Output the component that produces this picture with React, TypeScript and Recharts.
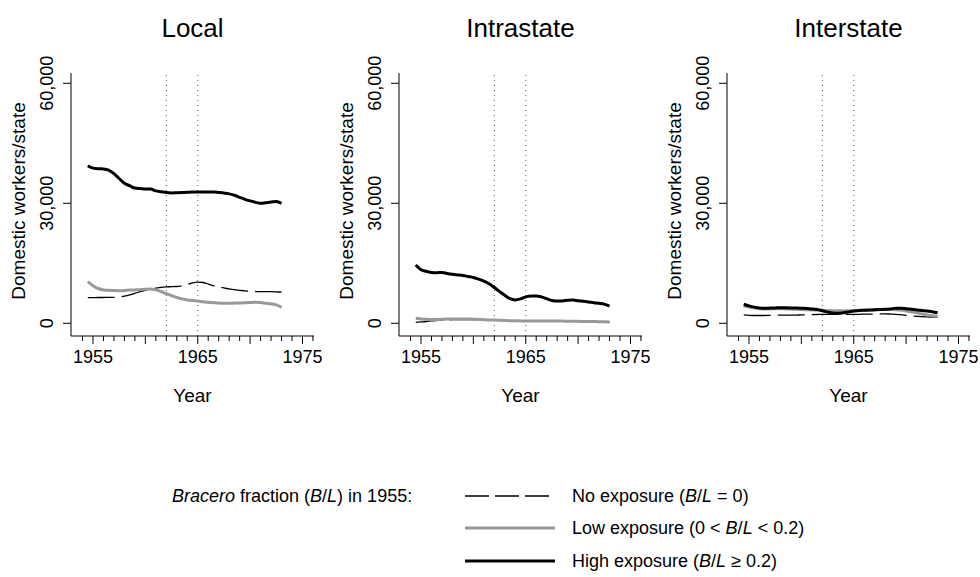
import React from 'react';
import { LineChart, Line, XAxis, YAxis, ReferenceLine } from 'recharts';

const FONT = "'Liberation Sans', Arial, Helvetica, sans-serif";

const years = [
  1954.5, 1955, 1955.5, 1956, 1956.5, 1957, 1957.5, 1958, 1958.5, 1959,
  1959.5, 1960, 1960.5, 1961, 1961.5, 1962, 1962.5, 1963, 1963.5, 1964,
  1964.5, 1965, 1965.5, 1966, 1966.5, 1967, 1967.5, 1968, 1968.5, 1969,
  1969.5, 1970, 1970.5, 1971, 1971.5, 1972, 1972.5, 1973,
];

const localNone = [
  6400, 6400, 6450, 6450, 6500, 6500, 6600, 6800, 7100, 7500,
  7900, 8250, 8550, 8800, 9000, 9100, 9150, 9200, 9400, 9700,
  10100, 10300, 10200, 9800, 9400, 9100, 8850, 8600, 8400, 8250,
  8100, 8000, 7950, 7900, 7900, 7900, 7850, 7800,
];
const localLow = [
  10400, 9400, 8700, 8350, 8250, 8200, 8150, 8200, 8300, 8350,
  8400, 8500, 8550, 8350, 7950, 7400, 6900, 6450, 6100, 5850,
  5700, 5550, 5400, 5250, 5150, 5050, 5000, 5000, 5050, 5100,
  5150, 5200, 5250, 5200, 5000, 4850, 4600, 4000,
];
const localHigh = [
  39400, 38800, 38650, 38600, 38300, 37400, 36200, 35000, 34400, 33800,
  33700, 33600, 33550, 33100, 32900, 32700, 32600, 32650, 32700, 32750,
  32800, 32820, 32850, 32850, 32830, 32700, 32550, 32350, 32000, 31500,
  31000, 30600, 30250, 30000, 30150, 30300, 30450, 30000,
];

const intraNone = [
  250, 350, 450, 600, 700, 800, 850, 900, 900, 900,
  900, 900, 880, 850, 820, 800, 760, 720, 680, 650,
  620, 600, 600, 580, 580, 570, 550, 540, 530, 500,
  490, 480, 460, 450, 430, 400, 380, 350,
];
const intraLow = [
  1250, 1100, 1000, 950, 950, 1000, 1050, 1100, 1100, 1100,
  1050, 1000, 950, 900, 850, 800, 750, 700, 650, 650,
  600, 600, 600, 600, 600, 600, 550, 550, 550, 500,
  500, 500, 450, 450, 450, 400, 400, 350,
];
const intraHigh = [
  14575, 13400, 13000, 12700, 12650, 12700, 12450, 12250, 12100, 11950,
  11700, 11450, 11050, 10550, 9900, 8950, 7950, 7000, 6150, 5850,
  6100, 6600, 6850, 6850, 6600, 6150, 5700, 5550, 5600, 5750,
  5800, 5650, 5500, 5350, 5150, 5000, 4800, 4300,
];

const interNone = [
  2100, 2000, 1950, 1950, 1950, 2000, 2000, 2050, 2050, 2050,
  2050, 2100, 2100, 2150, 2200, 2250, 2250, 2250, 2250, 2250,
  2250, 2250, 2250, 2300, 2300, 2300, 2350, 2350, 2300, 2250,
  2150, 2000, 1850, 1750, 1650, 1600, 1550, 1500,
];
const interLow = [
  4400, 4050, 3800, 3650, 3600, 3600, 3650, 3650, 3600, 3550,
  3500, 3450, 3400, 3350, 3300, 3250, 3200, 3150, 3150, 3150,
  3150, 3150, 3200, 3250, 3300, 3350, 3400, 3450, 3450, 3400,
  3300, 3100, 2850, 2600, 2350, 2100, 1900, 1700,
];
const interHigh = [
  4750, 4350, 4050, 3850, 3750, 3800, 3850, 3900, 3880, 3850,
  3800, 3750, 3700, 3600, 3450, 3150, 2800, 2550, 2500, 2650,
  2850, 3050, 3200, 3250, 3300, 3400, 3450, 3500, 3600, 3750,
  3750, 3650, 3500, 3350, 3200, 3050, 2900, 2650,
];

const panelTitles = ['Local', 'Intrastate', 'Interstate'];
const xTicks = [
  1954, 1955, 1956, 1957, 1958, 1959, 1960, 1961, 1962, 1963, 1964, 1965,
  1966, 1967, 1968, 1969, 1970, 1971, 1972, 1973, 1974, 1975, 1976,
];
const xLabelTicks = [1955, 1965, 1975];
const yTicks = [0, 30000, 60000];
const policyYears = [1962, 1965];

type Seg = [string, boolean];
const seriesDefs: { key: string; color: string; width: number; dash?: string; legendDash?: string; label: Seg[] }[] = [
  {
    key: 'none', color: '#000000', width: 1.3, dash: '27 7', legendDash: '24 6',
    label: [['No exposure (', false], ['B', true], ['/', false], ['L', true], [' = 0)', false]],
  },
  {
    key: 'low', color: '#999999', width: 3,
    label: [['Low exposure (0 < ', false], ['B', true], ['/', false], ['L', true], [' < 0.2)', false]],
  },
  {
    key: 'high', color: '#000000', width: 3,
    label: [['High exposure (', false], ['B', true], ['/', false], ['L', true], [' \u2265 0.2)', false]],
  },
];

const panelSeries = [
  [localNone, localLow, localHigh],
  [intraNone, intraLow, intraHigh],
  [interNone, interLow, interHigh],
];

function buildData(none: number[], low: number[], high: number[]) {
  return years.map((year, i) => ({ year, none: none[i], low: low[i], high: high[i] }));
}

const PANEL_W = 328;
const CHART_H = 420;
const MARGIN = { top: 73, right: 14, bottom: 24, left: 11 };

const XTick = (props: any) => {
  const { x, y, payload } = props;
  const v = payload.value;
  const major = v % 5 === 0;
  const labeled = xLabelTicks.includes(v);
  return (
    <g>
      <line x1={x} x2={x} y1={y} y2={y + (major ? 8 : 5)} stroke="#000" strokeWidth={1} />
      {labeled && (
        <text x={x} y={y + 27} textAnchor="middle" fontSize={18} fontFamily={FONT} fill="#000">
          {v}
        </text>
      )}
    </g>
  );
};

const YTick = (props: any) => {
  const { x, y, payload } = props;
  return (
    <text
      transform={`translate(${x - 10},${y}) rotate(-90)`}
      textAnchor="middle"
      fontSize={18}
      fontFamily={FONT}
      fill="#000"
    >
      {payload.value.toLocaleString('en-US')}
    </text>
  );
};

const YLabel = (props: any) => {
  const vb = props.viewBox || { x: 11, width: 60 };
  const x = vb.x + vb.width - 46;
  return (
    <text
      transform={`translate(${x},201) rotate(-90)`}
      textAnchor="middle"
      fontSize={19}
      fontFamily={FONT}
      fill="#000"
    >
      Domestic workers/state
    </text>
  );
};

const XLabel = (props: any) => {
  const vb = props.viewBox || { x: 71, y: 336, width: 243 };
  return (
    <text x={vb.x + vb.width / 2} y={vb.y + 66} textAnchor="middle" fontSize={19} fontFamily={FONT} fill="#000">
      Year
    </text>
  );
};

function Panel({ idx }: { idx: number }) {
  const [n, l, h] = panelSeries[idx];
  const data = buildData(n, l, h);
  return (
    <div style={{ position: 'absolute', left: idx * PANEL_W, top: 0 }}>
      <LineChart width={PANEL_W} height={CHART_H} data={data} margin={MARGIN}>
        <XAxis
          dataKey="year"
          type="number"
          domain={[1952.9, 1976.1]}
          ticks={xTicks}
          interval={0}
          tickSize={0}
          tickMargin={0}
          tickLine={false}
          tick={(p: any) => <XTick {...p} />}
          axisLine={{ stroke: '#000', strokeWidth: 1 }}
          height={60}
          allowDataOverflow
          label={{ content: (p: any) => <XLabel {...p} /> }}
        />
        <YAxis
          type="number"
          domain={[-3175, 62575]}
          ticks={yTicks}
          interval={0}
          width={60}
          tickSize={8}
          tickMargin={0}
          tickLine={{ stroke: '#000', strokeWidth: 1 }}
          axisLine={{ stroke: '#000', strokeWidth: 1 }}
          tick={(p: any) => <YTick {...p} />}
          allowDataOverflow
          label={{ content: (p: any) => <YLabel {...p} /> }}
        />
        {policyYears.map((yr) => (
          <ReferenceLine key={yr} x={yr} stroke="#555" strokeWidth={1} strokeDasharray="1 4" />
        ))}
        {seriesDefs.map((s) => (
          <Line
            key={s.key}
            dataKey={s.key}
            type="monotone"
            stroke={s.color}
            strokeWidth={s.width}
            strokeDasharray={s.dash}
            dot={false}
            activeDot={false}
            isAnimationActive={false}
          />
        ))}
      </LineChart>
    </div>
  );
}

export default function App() {
  const plotCenters = [0, 1, 2].map((i) => i * PANEL_W + MARGIN.left + 60 + (PANEL_W - MARGIN.left - 60 - MARGIN.right) / 2);
  const legendRows = [496, 528, 561];
  return (
    <div style={{ position: 'absolute', left: 0, top: 0, width: 980, height: 577, background: '#fff', fontFamily: FONT }}>
      {[0, 1, 2].map((i) => (
        <Panel key={i} idx={i} />
      ))}
      <svg width={980} height={577} style={{ position: 'absolute', left: 0, top: 0, pointerEvents: 'none' }}>
        {panelTitles.map((t, i) => (
          <text key={t} x={plotCenters[i]} y={37} textAnchor="middle" fontSize={26} fontFamily={FONT} fill="#000">
            {t}
          </text>
        ))}
        <text x={172} y={502} fontSize={18} fontFamily={FONT} fill="#000">
          <tspan fontStyle="italic">Bracero</tspan>
          <tspan> fraction (</tspan>
          <tspan fontStyle="italic">B</tspan>
          <tspan>/</tspan>
          <tspan fontStyle="italic">L</tspan>
          <tspan>) in 1955:</tspan>
        </text>
        {seriesDefs.map((s, i) => (
          <g key={s.key}>
            <line
              x1={465}
              x2={555}
              y1={legendRows[i]}
              y2={legendRows[i]}
              stroke={s.color}
              strokeWidth={s.width}
              strokeDasharray={s.legendDash}
            />
            <text x={572} y={legendRows[i] + 6} fontSize={18} fontFamily={FONT} fill="#000">
              {s.label.map(([txt, it], j) => (
                <tspan key={j} fontStyle={it ? 'italic' : 'normal'}>
                  {txt}
                </tspan>
              ))}
            </text>
          </g>
        ))}
      </svg>
    </div>
  );
}
